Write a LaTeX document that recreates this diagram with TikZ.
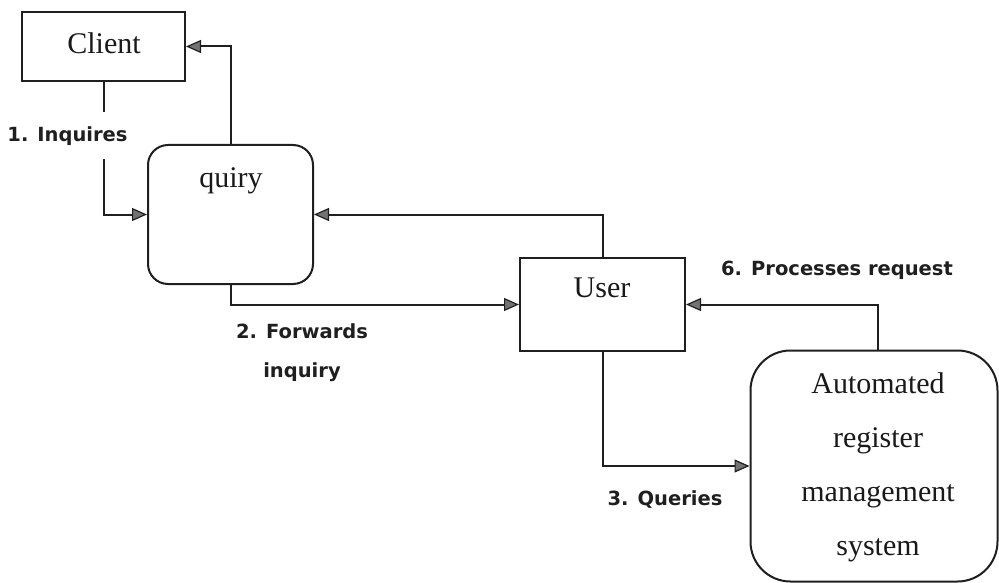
\documentclass[tikz,border=0pt]{standalone}
\usepackage{fontspec}
\setmainfont{Liberation Serif}
\newfontfamily\labelfont{DejaVu Sans}
\usetikzlibrary{arrows.meta}

\tikzset{
  ink/.style={draw=black!88, line width=2pt},
  boxtext/.style={font=\fontsize{30}{54}\selectfont, text=black!90, align=center, inner sep=0pt},
  plainbox/.style={ink, rectangle, inner sep=0pt},
  roundbox/.style={ink, rectangle, rounded corners=20pt, inner sep=0pt},
  flowlabel/.style={font=\labelfont\bfseries\fontsize{19.5}{39}\selectfont, text=black!88, align=center, inner sep=0pt},
  flow/.style={ink, -{Triangle[length=15pt, width=13pt, line width=1.2pt, fill=black!55]}}
}

\begin{document}
\begin{tikzpicture}[x=1pt, y=-1pt]
  \useasboundingbox (0,0) rectangle (999,583);

  % boxes
  \node[plainbox, minimum width=163pt, minimum height=69pt] (client) at (103.5,46.5) {};
  \node[boxtext] (clienttext) at (104,43) {Client};

  \node[roundbox, minimum width=165pt, minimum height=139pt] (quiry) at (230.5,214.5) {};
  \node[boxtext] (quirytext) at (231,181) {quiry};

  \node[plainbox, minimum width=165pt, minimum height=93pt] (user) at (602.5,304.5) {};
  \node[boxtext] (usertext) at (602,288) {User};

  \node[roundbox, rounded corners=40pt, minimum width=247pt, minimum height=231pt] (arms) at (874,466) {};
  \node[boxtext] (armstext) at (878,467) {Automated\\register\\management\\system};

  % connectors
  \draw[flow] (client.south) |- (quiry.west);
  \draw[flow] (quiry.north) |- (client.east);
  \draw[flow] (user.north) |- (quiry.east);
  \draw[flow] (quiry.south) |- (user.west);
  \draw[flow] (user.south) |- (arms.west);
  \draw[flow] ([xshift=4pt]arms.north) |- (user.east);

  % labels
  \node[flowlabel, fill=white, minimum height=47pt] (l1) at (67.5,136) {1. Inquires};
  \node[flowlabel] (l2) at (302,353) {2. Forwards\\inquiry};
  \node[flowlabel] (l3) at (665,500) {3. Queries};
  \node[flowlabel] (l6) at (837,270) {6. Processes request};
\end{tikzpicture}
\end{document}
